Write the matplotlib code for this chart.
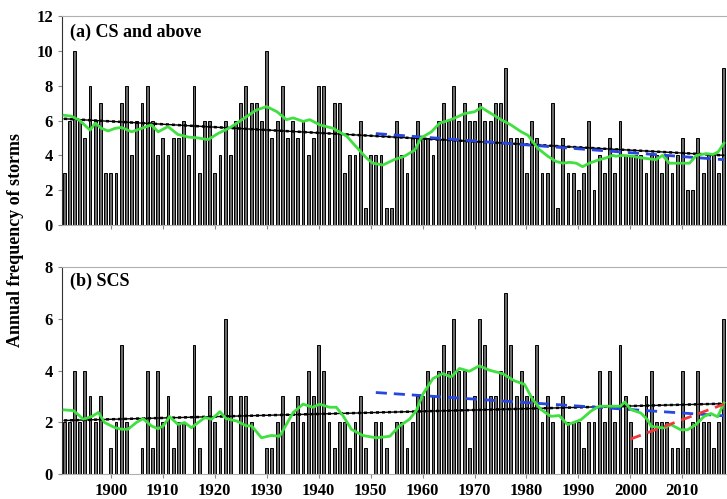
import matplotlib
matplotlib.use("Agg")
import matplotlib.pyplot as plt
import numpy as np

# annual storm counts, 1891-2018
years = np.arange(1891, 2019)

cs_above = [3, 6, 10, 6, 5, 8, 6, 7, 3, 3,
            3, 7, 8, 4, 6, 7, 8, 6, 4, 5,
            4, 5, 5, 6, 4, 8, 3, 6, 6, 3,
            4, 6, 4, 6, 7, 8, 7, 7, 6, 10,
            5, 6, 8, 5, 6, 5, 6, 4, 5, 8,
            8, 5, 7, 7, 3, 4, 4, 6, 1, 4,
            4, 4, 1, 1, 6, 4, 3, 5, 6, 5,
            5, 4, 6, 7, 6, 8, 6, 7, 6, 6,
            7, 6, 6, 7, 7, 9, 5, 5, 5, 3,
            6, 5, 3, 3, 7, 1, 5, 3, 3, 2,
            3, 6, 2, 4, 3, 5, 3, 6, 4, 4,
            4, 4, 3, 4, 4, 3, 4, 3, 4, 5,
            2, 2, 5, 3, 4, 4, 3, 9]

scs = [2, 2, 4, 2, 4, 3, 2, 3, 0, 1,
       2, 5, 2, 0, 0, 1, 4, 1, 4, 2,
       3, 1, 2, 2, 0, 5, 1, 0, 3, 2,
       1, 6, 3, 0, 3, 3, 2, 0, 0, 1,
       1, 2, 3, 0, 2, 3, 2, 4, 3, 5,
       4, 2, 1, 2, 2, 1, 2, 3, 1, 0,
       2, 2, 1, 0, 2, 2, 1, 2, 3, 3,
       4, 3, 4, 5, 4, 6, 4, 4, 1, 3,
       6, 5, 3, 3, 4, 7, 5, 3, 4, 3,
       3, 5, 2, 3, 2, 0, 3, 2, 2, 2,
       1, 2, 2, 4, 2, 4, 2, 5, 3, 2,
       1, 1, 3, 4, 2, 2, 2, 1, 1, 4,
       1, 2, 4, 2, 2, 1, 2, 6]

# smoothed curves (green)
smooth_a_years = [1891, 1892.4, 1894, 1896, 1897, 1898.2, 1899.5, 1900.8, 1902.1, 1904,
                  1905.9, 1907.8, 1909.1, 1911, 1912.9, 1914.9, 1916.8, 1918.7, 1920.6, 1923,
                  1926, 1928, 1930, 1932, 1933.8, 1935.1, 1937, 1938.3, 1940.2, 1942.8,
                  1945.4, 1947.2, 1949.2, 1950.4, 1952.4, 1954.5, 1956.5, 1958.5, 1959.7, 1961.7,
                  1963.3, 1965.5, 1968.1, 1970, 1971.3, 1973.2, 1975.1, 1977, 1979, 1980.3,
                  1982.2, 1984.1, 1985.7, 1987, 1988.3, 1989.6, 1990.8, 1992.1, 1994, 1995.3,
                  1996.6, 1997.2, 1998.5, 2000.5, 2002.3, 2003.6, 2004.9, 2006.2, 2007.5, 2009.4,
                  2011.4, 2012.7, 2014.6, 2015.9, 2016.9, 2018]
smooth_a_vals = [6.3, 6.25, 6.0, 5.45, 5.85, 5.55, 5.4, 5.55, 5.6, 5.35,
                 5.55, 5.75, 5.35, 5.65, 5.2, 5.05, 5.0, 4.9, 5.25, 5.6,
                 6.2, 6.6, 6.8, 6.5, 6.05, 6.15, 5.95, 6.05, 5.75, 5.55,
                 5.1, 4.5, 3.85, 3.55, 3.45, 3.75, 3.95, 4.3, 5.0, 5.35,
                 5.85, 6.05, 6.4, 6.5, 6.75, 6.4, 6.05, 5.75, 5.35, 5.15,
                 4.4, 3.95, 3.65, 3.55, 3.6, 3.55, 3.35, 3.55, 3.75, 3.85,
                 4.0, 3.95, 4.0, 3.95, 3.85, 3.8, 3.75, 4.0, 3.55, 3.55,
                 3.55, 4.0, 4.1, 4.05, 4.2, 4.7]

smooth_b_years = [1891, 1892.8, 1894.7, 1896.3, 1897.6, 1898.8, 1900.8, 1902.1, 1903.3, 1904.9,
                  1906.2, 1907.8, 1909.1, 1910.1, 1911.3, 1912.9, 1914.2, 1915.5, 1916.8, 1918.1,
                  1919.4, 1921, 1922.2, 1924.2, 1926.1, 1927.1, 1929, 1930.9, 1932.5, 1935.1,
                  1937, 1938.9, 1940.2, 1942.1, 1943.4, 1944.7, 1946.3, 1948.5, 1951.1, 1953.7,
                  1955.6, 1957.5, 1958.8, 1960.1, 1962, 1963.9, 1965.5, 1967.1, 1969, 1970.9,
                  1972.9, 1975.4, 1977.7, 1979.6, 1981.2, 1982.8, 1984.7, 1986.3, 1987.9, 1989.2,
                  1990.5, 1992.4, 1994, 1996.3, 1998.1, 1998.9, 2000.1, 2002, 2003.3, 2004,
                  2006.5, 2007.8, 2009.7, 2011, 2012.6, 2014.2, 2015.5, 2016.8, 2018]
smooth_b_vals = [2.48, 2.45, 2.12, 2.22, 2.38, 1.99, 1.79, 1.73, 1.73, 1.99,
                 2.14, 1.86, 1.75, 1.86, 2.22, 1.92, 1.99, 1.79, 1.99, 2.18,
                 2.12, 2.41, 2.14, 2.05, 1.86, 1.86, 1.4, 1.49, 1.46, 2.38,
                 2.7, 2.58, 2.7, 2.58, 2.58, 2.25, 1.73, 1.49, 1.4, 1.46,
                 1.86, 2.12, 2.45, 3.1, 3.69, 3.88, 3.75, 4.08, 3.97, 4.18,
                 4.01, 3.88, 3.6, 3.47, 2.88, 2.49, 2.23, 2.26, 1.91, 2.0,
                 2.1, 2.43, 2.62, 2.62, 2.62, 2.78, 2.49, 2.36, 2.1, 1.84,
                 1.78, 1.91, 1.71, 1.71, 1.91, 2.23, 2.34, 2.21, 2.75]

# linear trends (end points)
trend_a_years, trend_a_vals = [1891, 2018], [6.1, 4.0]
trend_a2_years, trend_a2_vals = [1951, 2018], [5.25, 3.75]
trend_b_years, trend_b_vals = [1891, 2018], [2.07, 2.72]
trend_b2_years, trend_b2_vals = [1951, 2018], [3.15, 2.25]
trend_b3_years, trend_b3_vals = [2000, 2018], [1.35, 2.7]

xticks = [1900, 1910, 1920, 1930, 1940, 1950, 1960, 1970, 1980, 1990, 2000, 2010]

FONT = "Liberation Serif"
GREEN = "#3fe03f"
BLUE = "#2846e0"
RED = "#f03a3a"


def style_axis(ax, ymax, ystep):
    ax.set_xlim(1890.6, 2018.6)
    ax.set_ylim(0, ymax)
    ax.set_yticks(np.arange(0, ymax + 1, ystep))
    ax.set_xticks(xticks)
    ax.spines["right"].set_visible(False)
    ax.spines["top"].set_color("#b0b0b0")
    ax.spines["bottom"].set_color("#b0b0b0")
    ax.spines["left"].set_color("#333333")
    ax.tick_params(axis="both", direction="out", length=3, width=0.8, color="#888888")
    for lab in ax.get_xticklabels() + ax.get_yticklabels():
        lab.set_fontfamily(FONT)
        lab.set_fontweight("bold")
        lab.set_fontsize(12)


def draw_trend(ax, xs, ys):
    ax.plot(xs, ys, color="black", lw=1.0, zorder=3)
    ax.plot(xs, ys, color="black", lw=1.8, ls=(0, (1.2, 1.2)), zorder=3)


def main():
    assert len(cs_above) == len(years) and len(scs) == len(years)

    fig = plt.figure(figsize=(7.27, 4.99), dpi=100)
    ax_a = fig.add_axes([0.0853, 0.549, 0.9147, 0.419])
    ax_b = fig.add_axes([0.0853, 0.050, 0.9147, 0.415])

    # (a)
    ax_a.bar(years, cs_above, width=0.55, color="#6a6a6a", edgecolor="black", linewidth=0.7, zorder=2)
    draw_trend(ax_a, trend_a_years, trend_a_vals)
    ax_a.plot(trend_a2_years, trend_a2_vals, color=BLUE, lw=2, ls=(0, (4, 2.5)), zorder=4)
    ax_a.plot(smooth_a_years, smooth_a_vals, color=GREEN, lw=2, zorder=5)
    style_axis(ax_a, 12, 2)
    ax_a.set_xticklabels([])
    ax_a.text(0.012, 0.92, "(a) CS and above", transform=ax_a.transAxes, va="center", ha="left",
              fontfamily=FONT, fontweight="bold", fontsize=13)

    # (b)
    ax_b.bar(years, scs, width=0.55, color="#6a6a6a", edgecolor="black", linewidth=0.7, zorder=2)
    draw_trend(ax_b, trend_b_years, trend_b_vals)
    ax_b.plot(trend_b2_years, trend_b2_vals, color=BLUE, lw=2, ls=(0, (4, 2.5)), zorder=4)
    ax_b.plot(smooth_b_years, smooth_b_vals, color=GREEN, lw=2, zorder=5)
    ax_b.plot(trend_b3_years, trend_b3_vals, color=RED, lw=2, ls=(0, (4, 2.5)), zorder=6)
    style_axis(ax_b, 8, 2)
    ax_b.text(0.012, 0.93, "(b) SCS", transform=ax_b.transAxes, va="center", ha="left",
              fontfamily=FONT, fontweight="bold", fontsize=13)

    fig.text(0.022, 0.519, "Annual frequency of storms", rotation=90, va="center", ha="center",
             fontfamily=FONT, fontweight="bold", fontsize=13)

    fig.savefig("out.png", dpi=100)


if __name__ == "__main__":
    main()
